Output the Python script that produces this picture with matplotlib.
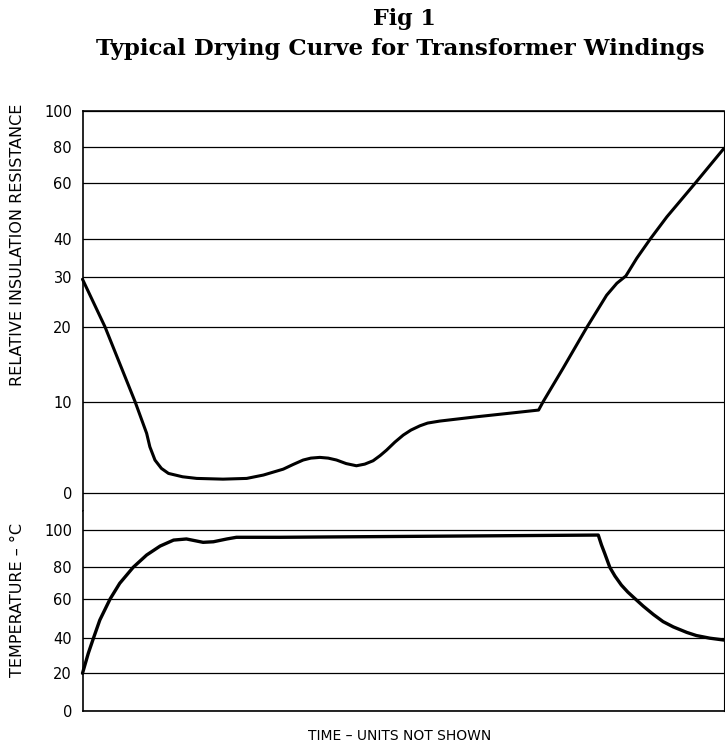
import numpy as np
import matplotlib
matplotlib.use("Agg")
import matplotlib.pyplot as plt

# ---- data ----
res_ticks = [0, 10, 20, 30, 40, 60, 80, 100]
temp_ticks = [0, 20, 40, 60, 80, 100]

res_time = [0, 3.5, 8.2, 10.0, 10.5, 11.3, 12.3, 13.4, 15.6, 17.8, 21.9, 25.6, 28.2,
            31.3, 32.8, 34.4, 35.6, 37.0, 38.3, 39.6, 41.1, 42.7, 44.0, 45.3, 46.4,
            47.4, 48.7, 50.0, 51.2, 52.6, 53.8, 55.7, 61.4, 67.2, 71.1, 71.8,
            74.9, 78.6, 81.7, 83.3, 84.7, 86.4, 88.5, 91.1, 95.5, 100]
res_val = [29.5, 20, 10, 6.53, 5.05, 3.59, 2.68, 2.13, 1.76, 1.58, 1.5, 1.58, 1.95,
           2.6, 3.1, 3.6, 3.81, 3.89, 3.81, 3.6, 3.21, 2.97, 3.15, 3.52, 4.09,
           4.69, 5.57, 6.34, 6.89, 7.36, 7.66, 7.88, 8.35, 8.79, 9.09, 10,
           14.45, 19.9, 26.3, 28.7, 30.2, 34.9, 40, 47.9, 59.8, 79.1]

temp_time = [0, 0.9, 1.7, 2.7, 4.3, 5.8, 7.9, 10.0, 12.1, 14.2, 16.2, 18.8, 20.4,
             22.5, 24.0, 30.8, 80.4, 80.9, 81.4, 82.2, 83.0, 84.0, 85.0, 86.1, 87.4,
             89.0, 90.5, 92.1, 94.2, 95.7, 97.8, 100]
temp_val = [20, 31.4, 40, 49.3, 60, 69.9, 80, 86.6, 91.4, 94.6, 95.2, 93.4, 93.7,
            95.2, 96.1, 96.1, 97.3, 92, 87.5, 80, 74.5, 68.8, 64.4, 60.3, 56.4,
            52.1, 48.5, 45.8, 43.0, 41.4, 40.06, 39.0]

# ---- axis scale calibration (gauge positions of the printed grid) ----
res_scale_vals = [-10, 0, 10, 20, 30, 40, 60, 80, 100]
res_scale_pos = [-583.7, -492.7, -401.7, -326.7, -276.7, -239.0, -182.7, -146.7, -111.0]
temp_scale_vals = [0, 20, 40, 60, 80, 100, 120]
temp_scale_pos = [-711.0, -673.3, -638.3, -599.0, -567.3, -530.0, -492.7]


def make_scale(vals, pos):
    vals = np.asarray(vals, float)
    pos = np.asarray(pos, float)
    lo_slope = (pos[1] - pos[0]) / (vals[1] - vals[0])
    hi_slope = (pos[-1] - pos[-2]) / (vals[-1] - vals[-2])

    def fwd(v):
        v = np.asarray(v, float)
        return np.where(v < vals[0], pos[0] + (v - vals[0]) * lo_slope,
                        np.where(v > vals[-1], pos[-1] + (v - vals[-1]) * hi_slope,
                                 np.interp(v, vals, pos)))

    def inv(p):
        p = np.asarray(p, float)
        return np.where(p < pos[0], vals[0] + (p - pos[0]) / lo_slope,
                        np.where(p > pos[-1], vals[-1] + (p - pos[-1]) / hi_slope,
                                 np.interp(p, pos, vals)))
    return fwd, inv


W, H = 725, 749
fig = plt.figure(figsize=(W / 100, H / 100), dpi=100)

left = 82.5 / W
right = 724 / W
ax1 = fig.add_axes([left, 1 - 511 / H, right - left, (511 - 111) / H])
ax2 = fig.add_axes([left, 1 - 711 / H, right - left, (711 - 511) / H])

tick_font = dict(family="DejaVu Sans", size=10.5)

for ax, ticks, (sv, sp), ylim in [
    (ax1, res_ticks, (res_scale_vals, res_scale_pos), (-2, 100)),
    (ax2, temp_ticks, (temp_scale_vals, temp_scale_pos), (0, 110.2)),
]:
    f, i = make_scale(sv, sp)
    ax.set_yscale("function", functions=(f, i))
    ax.set_ylim(*ylim)
    ax.set_xlim(0, 100)
    ax.set_yticks(ticks)
    ax.set_yticklabels([str(t) for t in ticks], fontdict=tick_font)
    ax.tick_params(axis="y", length=0, pad=7.5)
    ax.set_xticks([])
    for t in ticks:
        ax.axhline(t, color="black", lw=0.9, zorder=1)
    for s in ax.spines.values():
        s.set_linewidth(1.2)
        s.set_color("black")

ax1.spines["bottom"].set_visible(False)
ax2.spines["top"].set_visible(False)
ax1.spines["right"].set_linewidth(0.8)
ax2.spines["right"].set_linewidth(0.8)

ax1.plot(res_time, res_val, color="black", lw=2.2, solid_joinstyle="round",
         solid_capstyle="round", zorder=3, clip_on=False)
ax2.plot(temp_time, temp_val, color="black", lw=2.4, solid_joinstyle="round",
         solid_capstyle="round", zorder=3, clip_on=False)

fig.text(18 / W, 1 - 245 / H, "RELATIVE INSULATION RESISTANCE", rotation=90,
         ha="center", va="center", family="DejaVu Sans", size=11.5)
fig.text(18 / W, 1 - 600 / H, "TEMPERATURE – °C", rotation=90,
         ha="center", va="center", family="DejaVu Sans", size=11.5)
fig.text(400 / W, 1 - 736 / H, "TIME – UNITS NOT SHOWN", ha="center", va="center",
         family="DejaVu Sans", size=10)

fig.text(404 / W, 1 - 19 / H, "Fig 1", ha="center", va="center",
         family="DejaVu Serif", weight="bold", size=16)
fig.text(400 / W, 1 - 49 / H, "Typical Drying Curve for Transformer Windings",
         ha="center", va="center", family="DejaVu Serif", weight="bold", size=16.5)

fig.savefig("out.png", dpi=100)
